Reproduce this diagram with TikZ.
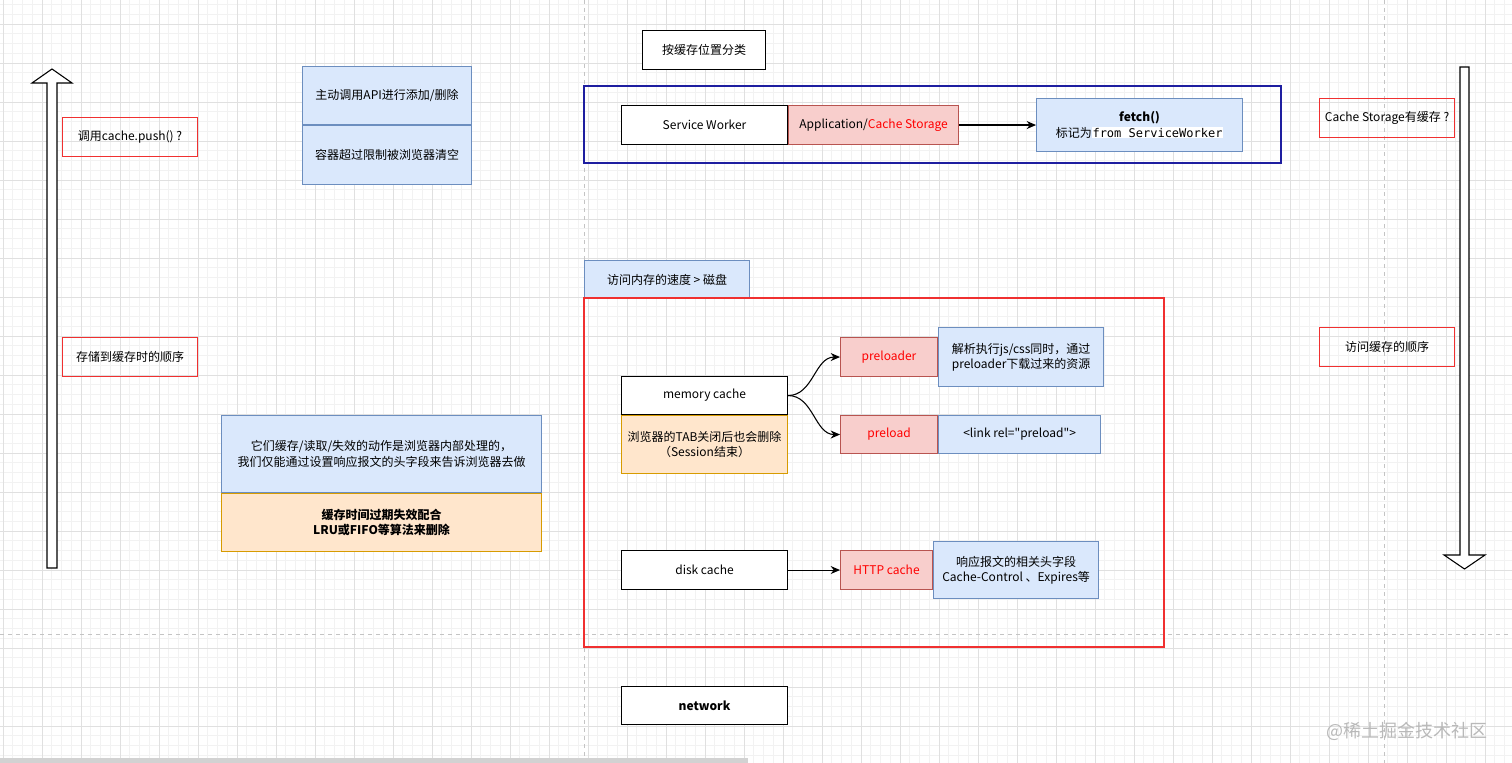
\documentclass[tikz,border=0pt]{standalone}
\usepackage{fontspec}
\setmainfont{Noto Sans CJK SC}[Ligatures=TeXOff]
\setmonofont{DejaVu Sans Mono}
\usetikzlibrary{positioning,arrows.meta}

\definecolor{bluefill}{HTML}{DAE8FC}
\definecolor{bluedraw}{HTML}{6C8EBF}
\definecolor{pinkfill}{HTML}{F8CECC}
\definecolor{pinkdraw}{HTML}{B85450}
\definecolor{orangefill}{HTML}{FFE6CC}
\definecolor{orangedraw}{HTML}{D79B00}
\definecolor{redline}{HTML}{F03030}
\definecolor{redtext}{HTML}{FF0000}
\definecolor{navyline}{HTML}{1E1EA0}
\definecolor{gridmajor}{HTML}{E0E0E0}
\definecolor{gridminor}{HTML}{F2F2F2}
\definecolor{gridguide}{HTML}{C4C4C4}

\begin{document}
\begin{tikzpicture}[x=0.75pt, y=-0.75pt,
	font=\fontsize{9}{11.5}\selectfont,
	sz/.style 2 args={minimum width=#1*0.75pt, minimum height=#2*0.75pt},
	box/.style={draw, line width=0.8pt, align=center, inner sep=1pt, anchor=north west},
	plainbox/.style={box, fill=white, draw=black},
	bluebox/.style={box, fill=bluefill, draw=bluedraw},
	pinkbox/.style={box, fill=pinkfill, draw=pinkdraw},
	orangebox/.style={box, fill=orangefill, draw=orangedraw},
	notebox/.style={box, draw=redline},
	conn/.style={-{Stealth[length=7pt,width=6pt]}, line width=0.8pt},
	bigarrow/.style={draw=black, fill=white, line width=0.8pt, line join=miter}
]
	\useasboundingbox (0,0) rectangle (1512,763);
	\fill[white] (0,0) rectangle (1512,763);
	% Minor grid
	\foreach \i in {0, ..., 155} {
		\draw [gridminor, line width=0.5pt] (3+9.75*\i,0) -- (3+9.75*\i,763);
	}
	\foreach \i in {0, ..., 80} {
		\draw [gridminor, line width=0.5pt] (0,-5.25+9.75*\i) -- (1512,-5.25+9.75*\i);
	}
	% Major grid
	\foreach \i in {0, ..., 38} {
		\draw [gridmajor, line width=0.6pt] (3+39*\i,0) -- (3+39*\i,763);
	}
	\foreach \i in {0, ..., 19} {
		\draw [gridmajor, line width=0.6pt] (0,24+39*\i) -- (1512,24+39*\i);
	}
	% Page guides
	\draw [gridguide, line width=0.6pt, dash pattern=on 3pt off 3pt] (584,0) -- (584,763);
	\draw [gridguide, line width=0.6pt, dash pattern=on 3pt off 3pt] (1384,0) -- (1384,763);
	\draw [gridguide, line width=0.6pt, dash pattern=on 3pt off 3pt] (0,634) -- (1512,634);
	\fill [gray!35] (0,758) rectangle (748,763);

	% Left: store order
	\draw [bigarrow] (47,568) -- (47,83) -- (32,83) -- (52,69) -- (72,83) -- (57,83) -- (57,568) -- cycle;
	\node [notebox, sz={135}{39}] (push) at (62,117) {调用cache.push() ?};
	\node [notebox, sz={135}{39}] (storeorder) at (62,337) {存储到缓存时的顺序};
	\node [bluebox, sz={169}{58}] (apidel) at (302,66) {主动调用API进行添加/删除};
	\node [bluebox, sz={169}{59}, below=0pt of apidel] (quota) {容器超过限制被浏览器清空};
	\node [bluebox, sz={320}{77}] (inside) at (221,415) {它们缓存/读取/失效的动作是浏览器内部处理的，\\我们仅能通过设置响应报文的头字段来告诉浏览器去做};
	\node [orangebox, sz={320}{58}, below=0pt of inside, font=\fontsize{9}{11.5}\selectfont\bfseries] (lru) {缓存时间过期失效配合\\LRU或FIFO等算法来删除};

	% Service Worker
	\node [plainbox, sz={123}{39}] (bytype) at (642,30) {按缓存位置分类};
	\draw [navyline, line width=0.8pt] (584,86) rectangle (1281,163);
	\node [plainbox, sz={166}{39}] (sw) at (621,105) {Service Worker};
	\node [pinkbox, sz={170}{39}, right=0pt of sw] (appcs) {Application/\textcolor{redtext}{Cache Storage}};
	\node [bluebox, sz={206}{53}] (fetch) at (1036,98) {\textbf{fetch()}\\标记为{\fboxsep=0.5pt\colorbox{white}{\texttt{from ServiceWorker}}}};
	\draw [conn] (appcs.east) -- (appcs.east -| fetch.west);

	% Memory and disk
	\node [bluebox, sz={165}{38}] (speed) at (584,260) {访问内存的速度 > 磁盘};
	\draw [redline, line width=0.8pt] (584,298) rectangle (1164,647);
	\node [plainbox, sz={166}{38}] (memory) at (621,376) {memory cache};
	\node [orangebox, sz={166}{58}, below=0pt of memory] (session) {浏览器的TAB关闭后也会删除\\（Session结束）};
	\node [pinkbox, sz={97}{39}, text=redtext] (preloader) at (840,337) {preloader};
	\node [bluebox, sz={165}{59}, right=0pt of preloader] (parse) {解析执行js/css同时，通过\\preloader下载过来的资源};
	\node [pinkbox, sz={97}{38}, text=redtext] (preload) at (840,415) {preload};
	\node [bluebox, sz={162}{38}, right=0pt of preload] (linkrel) {<link rel="preload">};
	\draw [conn] (memory.east) to [out=0, in=180] (preloader.west);
	\draw [conn] (memory.east) to [out=0, in=180] (preload.west);
	\node [plainbox, sz={166}{39}] (disk) at (621,550) {disk cache};
	\node [pinkbox, sz={92}{39}, text=redtext] (http) at (840,550) {HTTP cache};
	\node [bluebox, sz={165}{57}, right=0pt of http] (headers) {响应报文的相关头字段\\Cache-Control 、Expires等};
	\draw [conn] (disk) -- (http);
	\node [plainbox, sz={166}{38}, font=\fontsize{9}{11.5}\selectfont\bfseries] (network) at (621,686) {network};

	% Right: read order
	\draw [bigarrow] (1460,67) -- (1460,555) -- (1444,555) -- (1464.5,569) -- (1485,555) -- (1469,555) -- (1469,67) -- cycle;
	\node [notebox, sz={135}{39}] (hascache) at (1319,98) {Cache Storage有缓存 ?};
	\node [notebox, sz={135}{39}] (readorder) at (1319,327) {访问缓存的顺序};

	\node [anchor=east, text=gray!55, font=\fontsize{13.5}{15}\selectfont] (mark) at (1492,731) {@稀土掘金技术社区};
\end{tikzpicture}
\end{document}
